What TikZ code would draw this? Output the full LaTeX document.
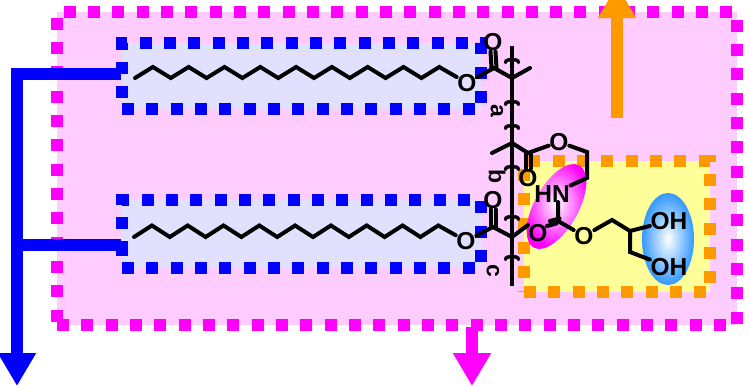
\documentclass[tikz,border=0pt]{standalone}
\usepackage{fontspec}
\setmainfont{Liberation Sans}
\usepackage{xcolor}
\usetikzlibrary{arrows.meta,shapes.geometric}
\definecolor{mainpink}{HTML}{FF00FF}
\definecolor{mainblue}{HTML}{0000FF}
\definecolor{boxpink}{HTML}{FFCCFF}
\definecolor{boxblue}{HTML}{E1E1FF}
\definecolor{boxyellow}{HTML}{FFFF99}
\definecolor{mainorange}{HTML}{FF9900}
\definecolor{lobeblue}{HTML}{3399FF}
\tikzset{
	dotbox/.style={line width=12pt, dash pattern=on 12pt off 12.33pt},
	flow/.style={line width=12pt, -{Triangle[width=36pt,length=33pt]}},
	bond/.style={line width=4pt, black, line cap=round, line join=miter},
	atom/.style={inner sep=0.6pt, font=\fontsize{24.5}{24.5}\selectfont\bfseries},
	unit/.style={inner sep=0pt, rotate=-90, font=\fontsize{23}{23}\selectfont\bfseries}
}
\begin{document}
\begin{tikzpicture}[x=1pt,y=-1pt]
	\useasboundingbox (0,0) rectangle (750,386);
	% boxes
	\draw[dotbox, mainpink, fill=boxpink] (57,325) -- (737,325) -- (737,12) -- (57,12) -- cycle;
	\draw[dotbox, mainblue, fill=boxblue] (122,109) -- (481,109) -- (481,43) -- (122,43) -- cycle;
	\draw[dotbox, mainblue, fill=boxblue] (122,268) -- (481,268) -- (481,200) -- (122,200) -- (122,265);
	\draw[dotbox, mainorange, fill=boxyellow] (524,292) -- (710,292) -- (710,161) -- (524,161) -- cycle;
	% arrows
	\coordinate (blueA) at (121,74);
	\coordinate (blueB) at (121,245);
	\coordinate (blueEnd) at (17,386);
	\coordinate (orangeStart) at (617,118);
	\coordinate (orangeEnd) at (617,-15);
	\coordinate (pinkStart) at (472,327);
	\coordinate (pinkEnd) at (472,386);
	\draw[flow, mainblue] (blueA) -| (blueEnd);
	\draw[line width=12pt, mainblue] (blueB) -- (17,245);
	\fill[mainblue] (116,62) rectangle (128,74);
	\fill[mainblue] (116,244) rectangle (128,256);
	\draw[flow, mainorange] (orangeStart) -- (orangeEnd);
	\draw[flow, mainpink] (pinkStart) -- (pinkEnd);
	% lobes
	\node[ellipse, rotate=61, minimum width=94pt, minimum height=44pt, inner sep=0pt, inner color=white, outer color=mainpink] (lobeA) at (556.5,206.5) {};
	\node[ellipse, minimum width=52pt, minimum height=92pt, inner sep=0pt, inner color=white, outer color=lobeblue] (lobeB) at (668,239) {};
	% backbone
	\coordinate (top) at (512,46);
	\coordinate (bottom) at (512,286);
	\draw[bond, line cap=butt] (top) -- (bottom);
	\foreach \y in {60,102,126,167,217,257} {
		\draw[line width=3.4pt, line cap=round] (505.5,\y+2.5) .. controls (505.5,\y) and (509,\y-0.5) .. (512,\y-0.5) .. controls (515,\y-0.5) and (518.5,\y) .. (518.5,\y+2.5);
	}
	% upper unit
	\coordinate (cA) at (512,78);
	\coordinate (coA) at (494,68);
	\coordinate (meA) at (530,68);
	\node[atom] (oA) at (493,42) {O};
	\node[atom] (oEsterA) at (467,83) {O};
	\draw[bond] (meA) -- (cA) -- (coA) -- (oEsterA);
	\draw[bond] ([xshift=-2.5pt]coA) -- ([xshift=-2.5pt]oA.south);
	\draw[bond] ([xshift=2.5pt]coA) -- ([xshift=2.5pt]oA.south);
	\coordinate (chainA) at (135,78);
	\draw[bond] (chainA) \foreach \i in {1,...,8} {-- ++(17.9,-11) -- ++(17.9,11)} -- ++(17.9,-11) -- (oEsterA);
	% middle unit
	\coordinate (cB) at (512,143);
	\coordinate (meB) at (492,153);
	\coordinate (coB) at (528,153);
	\coordinate (chA) at (587,152);
	\coordinate (chB) at (587,178);
	\node[atom] (oB) at (528,178) {O};
	\node[atom] (oEsterB) at (559,142) {O};
	\node[atom] (nh) at (552,194) {HN};
	\draw[bond] (meB) -- (cB) -- (coB) -- (oEsterB) -- (chA) -- (chB) -- (nh);
	\draw[bond] ([xshift=-2.5pt]coB) -- ([xshift=-2.5pt]oB.north);
	\draw[bond] ([xshift=2.5pt]coB) -- ([xshift=2.5pt]oB.north);
	% carbamate and diol
	\coordinate (cC) at (558,221);
	\coordinate (chC) at (612,220);
	\coordinate (chD) at (630,231);
	\coordinate (chE) at (630,252);
	\node[atom] (oC) at (538,233) {O};
	\node[atom] (oEsterC) at (584,236) {O};
	\node[atom] (ohA) at (669,221) {OH};
	\node[atom] (ohB) at (669,267) {OH};
	\draw[bond] (558,202) -- (cC) -- (oEsterC) -- (chC) -- (chD) -- (ohA);
	\draw[bond] (chD) -- (chE) -- (ohB);
	\draw[bond] ([shift={(-1.5pt,-2.5pt)}]cC) -- ([shift={(-1.5pt,-2.5pt)}]oC.north east);
	\draw[bond] ([shift={(1.5pt,2.5pt)}]cC) -- ([shift={(1.5pt,2.5pt)}]oC.north east);
	% lower unit
	\coordinate (cD) at (512,237);
	\coordinate (coD) at (493,227);
	\coordinate (meD) at (528,225);
	\node[atom] (oD) at (493,200) {O};
	\node[atom] (oEsterD) at (466,241) {O};
	\draw[bond] (meD) -- (cD) -- (coD) -- (oEsterD);
	\draw[bond] ([xshift=-2.5pt]coD) -- ([xshift=-2.5pt]oD.south);
	\draw[bond] ([xshift=2.5pt]coD) -- ([xshift=2.5pt]oD.south);
	\coordinate (chainB) at (134,237);
	\draw[bond] (chainB) \foreach \i in {1,...,8} {-- ++(17.9,-11.5) -- ++(17.9,11.5)} -- ++(17.9,-11.5) -- (oEsterD);
	% repeat labels
	\node[unit] (unitA) at (497,111) {a};
	\node[unit] (unitB) at (497,177) {b};
	\node[unit] (unitC) at (493,271) {c};
\end{tikzpicture}
\end{document}
